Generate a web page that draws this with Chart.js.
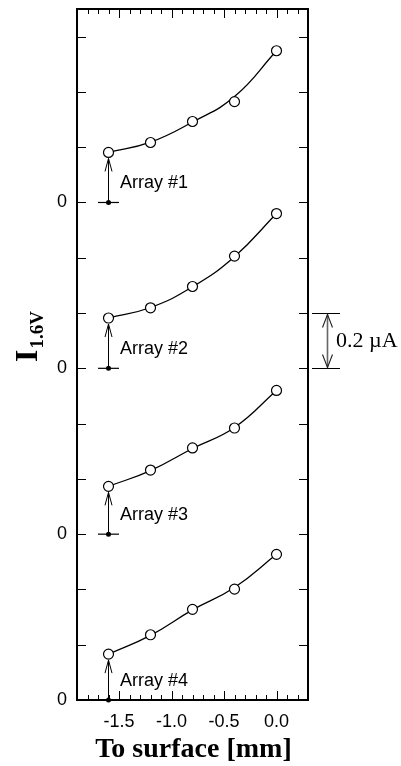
<!DOCTYPE html>
<html>
<head>
<meta charset="utf-8">
<script src="https://cdn.jsdelivr.net/npm/chart.js@4.4.1/dist/chart.umd.min.js"></script>
<style>
  html, body { margin: 0; padding: 0; background: #fff; }
  #wrap { width: 401px; height: 766px; }
</style>
</head>
<body>
<div id="wrap"><canvas id="chart" width="401" height="766"></canvas></div>
<script>
// distance to surface [mm]
const positions = [-1.6, -1.2, -0.8, -0.4, 0.0];

// measured I(1.6V) in uA, and the fitted curves
const array1Points = [0.181, 0.217, 0.293, 0.365, 0.549];
const array1Fit    = [0.181, 0.218, 0.291, 0.383, 0.549];
const array2Points = [0.182, 0.219, 0.296, 0.406, 0.560];
const array2Fit    = [0.182, 0.220, 0.295, 0.404, 0.560];
const array3Points = [0.173, 0.232, 0.312, 0.384, 0.520];
const array3Fit    = [0.173, 0.230, 0.310, 0.386, 0.520];
const array4Points = [0.166, 0.236, 0.328, 0.401, 0.527];
const array4Fit    = [0.166, 0.234, 0.326, 0.407, 0.527];

// each array is shifted up so they stack
const offsets = [1.8, 1.2, 0.6, 0];
const arrayLabels = ["Array #1", "Array #2", "Array #3", "Array #4"];
const baseSegment = [-1.7, -1.5];

const xLabelValues = [-1.5, -1.0, -0.5, 0.0];
const xTickLabels = ["-1.5", "-1.0", "-0.5", "0.0"];
const yZeroLabel = "0";
const scaleBar = [1.2, 1.4];
const scaleBarText = "0.2 \u00b5A";
const xTitle = "To surface [mm]";

const allPoints = [array1Points, array2Points, array3Points, array4Points];
const allFits = [array1Fit, array2Fit, array3Fit, array4Fit];

const near = (a, b) => Math.abs(a - b) < 1e-6;

/* ================= DATASETS ================= */

const datasets = [];
allPoints.forEach((pts, i) => {
  datasets.push({
    data: pts.map((v, j) => ({ x: positions[j], y: v + offsets[i] })),
    showLine: false,
    pointRadius: 5,
    pointBorderWidth: 1.2,
    pointBorderColor: "#000",
    pointBackgroundColor: "#fff",
    order: 0,
    clip: false
  });
  datasets.push({
    data: allFits[i].map((v, j) => ({ x: positions[j], y: v + offsets[i] })),
    showLine: true,
    borderColor: "#000",
    borderWidth: 1.3,
    pointRadius: 0,
    tension: 0.45,
    order: 2
  });
  datasets.push({
    data: baseSegment.map(x => ({ x: x, y: offsets[i] })),
    showLine: true,
    borderColor: "#000",
    borderWidth: 1.2,
    pointRadius: 0,
    order: 1,
    clip: false
  });
  datasets.push({
    data: [{ x: positions[0], y: offsets[i] }],
    showLine: false,
    pointRadius: 2.5,
    pointBorderWidth: 0,
    pointBackgroundColor: "#000",
    order: 0,
    clip: false
  });
});

/* ================= EXTRA DRAWING ================= */

function arrowHead(ctx, x, y, dir, half) {
  // open V head, tip at (x, y), dir = 1 means pointing up
  ctx.beginPath();
  ctx.moveTo(x - half, y + dir * 13);
  ctx.lineTo(x, y);
  ctx.lineTo(x + half, y + dir * 13);
  ctx.stroke();
}

const extras = {
  id: "extras",
  afterDraw(chart) {
    const ctx = chart.ctx;
    const xs = chart.scales.x;
    const ys = chart.scales.y;
    const area = chart.chartArea;
    ctx.save();
    ctx.strokeStyle = "#000";
    ctx.fillStyle = "#000";

    // frame
    ctx.lineWidth = 2;
    ctx.strokeRect(area.left, area.top, area.right - area.left, area.bottom - area.top);

    // inward ticks
    ctx.lineWidth = 1;
    ctx.beginPath();
    xs.ticks.forEach(t => {
      const px = Math.round(xs.getPixelForValue(t.value)) + 0.5;
      const major = near(t.value * 2, Math.round(t.value * 2));
      const len = major ? 9 : 5;
      ctx.moveTo(px, area.bottom);
      ctx.lineTo(px, area.bottom - len);
      ctx.moveTo(px, area.top);
      ctx.lineTo(px, area.top + len);
    });
    ys.ticks.forEach(t => {
      if (!near(t.value * 5, Math.round(t.value * 5))) return;
      const py = Math.round(ys.getPixelForValue(t.value)) + 0.5;
      ctx.moveTo(area.left, py);
      ctx.lineTo(area.left + 9, py);
      ctx.moveTo(area.right, py);
      ctx.lineTo(area.right - 9, py);
    });
    ctx.stroke();

    // arrows from zero to first point + labels
    ctx.lineWidth = 1;
    ctx.font = "18px 'Liberation Sans', Arial, sans-serif";
    ctx.textBaseline = "middle";
    ctx.textAlign = "left";
    allPoints.forEach((pts, i) => {
      const px = Math.round(xs.getPixelForValue(positions[0])) + 0.5;
      const yBase = ys.getPixelForValue(offsets[i]);
      const yTip = ys.getPixelForValue(offsets[i] + pts[0]) + 6;
      ctx.beginPath();
      ctx.moveTo(px, yBase);
      ctx.lineTo(px, yTip);
      ctx.stroke();
      arrowHead(ctx, px, yTip, 1, 3.5);
      ctx.fillText(arrayLabels[i], xs.getPixelForValue(-1.49), ys.getPixelForValue(offsets[i] + 0.07));
    });

    // 0.2 uA scale bar on the right
    const yLo = Math.round(ys.getPixelForValue(scaleBar[0])) + 0.5;
    const yHi = Math.round(ys.getPixelForValue(scaleBar[1])) + 0.5;
    const bx = area.right + 19.5;
    ctx.beginPath();
    ctx.moveTo(area.right + 4, yHi);
    ctx.lineTo(area.right + 32, yHi);
    ctx.moveTo(area.right + 4, yLo);
    ctx.lineTo(area.right + 32, yLo);
    ctx.stroke();
    ctx.strokeStyle = "#666";
    ctx.lineWidth = 1.6;
    ctx.beginPath();
    ctx.moveTo(bx, yHi + 1);
    ctx.lineTo(bx, yLo - 1);
    ctx.stroke();
    ctx.strokeStyle = "#222";
    ctx.lineWidth = 1.1;
    arrowHead(ctx, bx, yHi + 1, 1, 5);
    arrowHead(ctx, bx, yLo - 1, -1, 5);
    ctx.font = "22px 'Liberation Serif', 'Times New Roman', serif";
    ctx.fillText(scaleBarText, area.right + 28, (yHi + yLo) / 2);

    // x title
    ctx.font = "bold 28px 'Liberation Serif', 'Times New Roman', serif";
    ctx.textAlign = "center";
    ctx.fillText(xTitle, (area.left + area.right) / 2 + 1, area.bottom + 50);

    // y title I with subscript 1.6V
    ctx.translate(37, 362);
    ctx.rotate(-Math.PI / 2);
    ctx.textAlign = "left";
    ctx.textBaseline = "alphabetic";
    ctx.font = "bold 32px 'Liberation Serif', 'Times New Roman', serif";
    ctx.fillText("I", 0, 0);
    const w = ctx.measureText("I").width;
    ctx.font = "bold 19px 'Liberation Serif', 'Times New Roman', serif";
    ctx.fillText("1.6V", w + 1, 6);
    ctx.restore();
  }
};

/* ================= CHART ================= */

new Chart(document.getElementById("chart"), {
  type: "scatter",
  data: { datasets: datasets },
  plugins: [extras],
  options: {
    responsive: false,
    animation: false,
    layout: { padding: { left: 0, right: 93, top: 9, bottom: 0 } },
    plugins: { legend: { display: false }, tooltip: { enabled: false } },
    scales: {
      x: {
        type: "linear",
        min: -1.9,
        max: 0.3,
        grid: { display: false, drawTicks: false },
        border: { display: false },
        afterFit: s => { s.height = 66; s.paddingLeft = 0; s.paddingRight = 0; },
        ticks: {
          stepSize: 0.1,
          autoSkip: false,
          maxRotation: 0,
          padding: 11,
          color: "#000",
          font: { family: "'Liberation Sans', Arial, sans-serif", size: 18 },
          callback: value => {
            const idx = xLabelValues.findIndex(l => near(l, value));
            return idx >= 0 ? xTickLabels[idx] : "";
          }
        }
      },
      y: {
        type: "linear",
        min: 0,
        max: 2.5,
        grid: { display: false, drawTicks: false },
        border: { display: false },
        afterFit: s => { s.width = 77; s.paddingTop = 0; s.paddingBottom = 0; },
        ticks: {
          stepSize: 0.2,
          autoSkip: false,
          padding: 10,
          color: "#000",
          font: { family: "'Liberation Sans', Arial, sans-serif", size: 18 },
          callback: value => offsets.some(o => near(o, value)) ? yZeroLabel : ""
        }
      }
    }
  }
});
</script>
</body>
</html>
